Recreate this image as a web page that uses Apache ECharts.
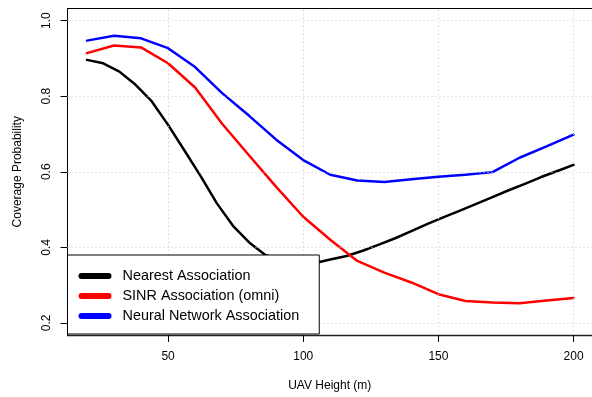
<!DOCTYPE html>
<html>
<head>
<meta charset="utf-8">
<script src="https://cdn.jsdelivr.net/npm/echarts@6/dist/echarts.min.js"></script>
<style>html,body{margin:0;padding:0;background:#fff;}#c{width:592px;height:397px;}</style>
</head>
<body>
<div id="c"></div>
<script>
// UAV heights
const heightsNearest = [20,26,32,38,44,50,56,62,68,74,80,86,92,98,104,110,116,122,128,134,140,146,152,158,164,170,176,182,188,194,200];
const nearestVals = [0.896,0.887,0.865,0.830,0.786,0.724,0.657,0.589,0.517,0.457,0.413,0.380,0.366,0.358,0.358,0.368,0.377,0.391,0.407,0.424,0.443,0.462,0.480,0.497,0.515,0.533,0.551,0.568,0.586,0.602,0.618];
const heights = [20,30,40,50,60,70,80,90,100,110,120,130,140,150,160,170,180,190,200];
const sinrVals = [0.914,0.934,0.929,0.887,0.823,0.727,0.643,0.560,0.481,0.420,0.364,0.333,0.307,0.276,0.258,0.254,0.252,0.259,0.266];
const nnVals = [0.947,0.960,0.953,0.927,0.877,0.808,0.748,0.685,0.631,0.592,0.577,0.573,0.580,0.587,0.592,0.599,0.637,0.667,0.698];
const xTicks = [50,100,150,200];
const yTicks = [0.2,0.4,0.6,0.8,1.0];
const seriesNames = ['Nearest Association','SINR Association (omni)','Neural Network Association'];

const font = '"Liberation Sans", Arial, Helvetica, sans-serif';
const pair = (xs, ys) => xs.map((x, i) => [x, ys[i]]);
const chart = echarts.init(document.getElementById('c'), null, {renderer: 'canvas'});
const capsule = 'path://M3,0H30A3,3,0,0,1,30,6H3A3,3,0,0,1,3,0Z';
const mkSeries = (name, data, color) => ({
  name, type: 'line', data, showSymbol: false, symbol: 'none',
  lineStyle: {width: 2.5, color, cap: 'round', join: 'round'}, itemStyle: {color}, z: 3, animation: false
});
const gridLines = {
  name: 'grid', type: 'line', data: [], z: 1, silent: true, animation: false,
  markLine: {
    silent: true, symbol: ['none', 'none'], animation: false,
    label: {show: false},
    lineStyle: {color: '#c8c8c8', type: [1, 3], width: 1},
    emphasis: {disabled: true},
    data: xTicks.map(v => ({xAxis: v})).concat(yTicks.map(v => ({yAxis: v})))
  }
};
const xMin = 12.8, xMax = 206.82;
chart.setOption({
  animation: false,
  backgroundColor: '#fff',
  grid: {left: 67.5, right: 0, top: 8.5, bottom: 62, show: false, containLabel: false},
  xAxis: [{
    type: 'value', min: xMin, max: xMax,
    name: 'UAV Height (m)', nameLocation: 'middle', nameGap: 45,
    nameTextStyle: {fontFamily: font, fontSize: 12, color: '#000'},
    axisLine: {show: true, lineStyle: {color: '#222', width: 1.3}},
    axisTick: {show: true, length: 7, customValues: xTicks, lineStyle: {color: '#000'}},
    axisLabel: {customValues: xTicks, margin: 16, fontFamily: font, fontSize: 12, color: '#000'},
    splitLine: {show: false}
  }, {
    type: 'value', position: 'top', min: xMin, max: xMax,
    axisLine: {show: true, onZero: false, lineStyle: {color: '#000', width: 1}},
    axisTick: {show: false}, axisLabel: {show: false}, splitLine: {show: false}
  }],
  yAxis: {
    type: 'value', min: 0.168, max: 1.032,
    name: 'Coverage Probability', nameLocation: 'middle', nameGap: 44,
    nameTextStyle: {fontFamily: font, fontSize: 12, color: '#000'},
    axisLine: {show: true, onZero: false, lineStyle: {color: '#000', width: 1}},
    axisTick: {show: true, length: 7, customValues: yTicks, lineStyle: {color: '#000'}},
    axisLabel: {customValues: yTicks, rotate: 90, margin: 15, fontFamily: font, fontSize: 12, color: '#000',
      formatter: v => Number(v).toFixed(1)},
    splitLine: {show: false}
  },
  legend: {
    orient: 'vertical', left: 67.5, top: 255,
    data: seriesNames,
    icon: capsule, itemWidth: 33, itemHeight: 6, itemGap: 4,
    padding: [13, 20, 10, 11],
    backgroundColor: '#fff', borderColor: '#000', borderWidth: 1, borderRadius: 0,
    textStyle: {fontFamily: font, fontSize: 14.4, color: '#000', lineHeight: 16, padding: [0, 0, 0, 6]},
    selectedMode: false, z: 10
  },
  series: [
    gridLines,
    mkSeries(seriesNames[0], pair(heightsNearest, nearestVals), '#000000'),
    mkSeries(seriesNames[1], pair(heights, sinrVals), '#ff0000'),
    mkSeries(seriesNames[2], pair(heights, nnVals), '#0000ff')
  ]
});
</script>
</body>
</html>
